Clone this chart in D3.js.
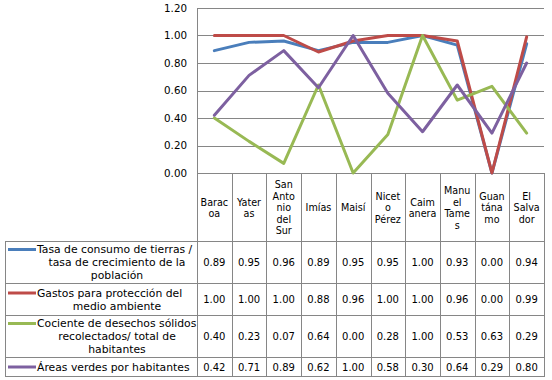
<!DOCTYPE html>
<html>
<head>
<meta charset="utf-8">
<script src="https://cdn.jsdelivr.net/npm/d3@7"></script>
<style>
  html, body { margin: 0; padding: 0; background: #fff; }
  svg { display: block; }
  text { font-family: "DejaVu Sans", Verdana, sans-serif; fill: #000; }
</style>
</head>
<body>
<svg id="chart" width="552" height="380"></svg>
<script>
// ---- data ----
const categories = ["Baracoa", "Yateras", "San Antonio del Sur", "Imías", "Maisí",
  "Niceto Pérez", "Caimanera", "Manuel Tames", "Guantánamo", "El Salvador"];
const categoryLabelLines = [
  ["Barac", "oa"], ["Yater", "as"], ["San", "Anto", "nio", "del", "Sur"], ["Imías"], ["Maisí"],
  ["Nicet", "o", "Pérez"], ["Caim", "anera"], ["Manu", "el", "Tame", "s"], ["Guan", "tána", "mo"], ["El", "Salva", "dor"]
];
const seriesNames = [
  "Tasa de consumo de tierras / tasa de crecimiento de la población",
  "Gastos para protección del medio ambiente",
  "Cociente de desechos sólidos recolectados/ total de habitantes",
  "Áreas verdes por habitantes"
];
const seriesLabelLines = [
  ["Tasa de consumo de tierras /", "tasa de crecimiento de la", "población"],
  ["Gastos para protección del", "medio ambiente"],
  ["Cociente de desechos sólidos", "recolectados/ total de", "habitantes"],
  ["Áreas verdes por habitantes"]
];
const tasaConsumo = [0.89, 0.95, 0.96, 0.89, 0.95, 0.95, 1.00, 0.93, 0.00, 0.94];
const gastosProteccion = [1.00, 1.00, 1.00, 0.88, 0.96, 1.00, 1.00, 0.96, 0.00, 0.99];
const cocienteDesechos = [0.40, 0.23, 0.07, 0.64, 0.00, 0.28, 1.00, 0.53, 0.63, 0.29];
const areasVerdes = [0.42, 0.71, 0.89, 0.62, 1.00, 0.58, 0.30, 0.64, 0.29, 0.80];
const yTicks = [0, 0.2, 0.4, 0.6, 0.8, 1.0, 1.2];

const seriesValues = [tasaConsumo, gastosProteccion, cocienteDesechos, areasVerdes];
const colors = ["#4A7EBB", "#BE4B48", "#98B954", "#7D60A0"];

// ---- layout ----
const plotLeft = 197, plotRight = 544, plotTop = 8, plotBottom = 173;
const tableLeft = 5;
const headerBottom = 241;
const rowBounds = [241, 283, 315, 357, 376];
const gridColor = "#868686";

const svg = d3.select("#chart");

const x = d3.scaleBand().domain(categories).range([plotLeft, plotRight]).padding(0);
const y = d3.scaleLinear().domain([0, 1.2]).range([plotBottom, plotTop]);

// gridlines
svg.append("g").selectAll("line").data(yTicks).join("line")
  .attr("x1", plotLeft).attr("x2", plotRight)
  .attr("y1", d => Math.round(y(d)) + 0.5).attr("y2", d => Math.round(y(d)) + 0.5)
  .attr("stroke", gridColor).attr("stroke-width", 1);

// y axis labels
const yAxis = d3.axisLeft(y).tickValues(yTicks).tickFormat(d3.format(".2f")).tickSize(0).tickPadding(10);
const yg = svg.append("g").attr("transform", `translate(${plotLeft},0)`).call(yAxis);
yg.select(".domain").remove();
yg.selectAll("text").style("font-family", '"DejaVu Sans", Verdana, sans-serif').style("font-size", "10.3px").attr("fill", "#000");

// table lines
const tg = svg.append("g").attr("stroke", gridColor).attr("stroke-width", 1).attr("fill", "none");
const colEdges = categories.map(c => x(c)).concat([plotRight]);
tg.selectAll("line.v").data(colEdges).join("line").attr("class", "v")
  .attr("x1", d => Math.round(d) + 0.5).attr("x2", d => Math.round(d) + 0.5)
  .attr("y1", (d, i) => i === 0 ? plotTop : plotBottom).attr("y2", rowBounds[rowBounds.length - 1] + 0.5);
tg.append("line").attr("x1", tableLeft + 0.5).attr("x2", tableLeft + 0.5)
  .attr("y1", rowBounds[0] + 0.5).attr("y2", rowBounds[rowBounds.length - 1] + 0.5);
tg.selectAll("line.h").data(rowBounds).join("line").attr("class", "h")
  .attr("x1", tableLeft).attr("x2", plotRight + 1)
  .attr("y1", d => d + 0.5).attr("y2", d => d + 0.5);

// header category labels
const headerLH = 11.5;
categories.forEach((c, i) => {
  const lines = categoryLabelLines[i];
  const cx = x(c) + x.bandwidth() / 2;
  const cy = (plotBottom + headerBottom) / 2 + 1;
  const t = svg.append("text").attr("text-anchor", "middle").style("font-size", "9.6px");
  lines.forEach((l, j) => {
    t.append("tspan").attr("x", cx)
      .attr("y", cy + (j - (lines.length - 1) / 2) * headerLH)
      .attr("dy", "0.35em").text(l);
  });
});

// row labels + legend keys + values
const rowLH = 13;
const fmt = d3.format(".2f");
seriesNames.forEach((s, i) => {
  const top = rowBounds[i], bot = rowBounds[i + 1];
  const cy = (top + bot) / 2 + 0.5;
  const lines = seriesLabelLines[i];
  const firstY = cy - (lines.length - 1) / 2 * rowLH;
  svg.append("line").attr("x1", 8).attr("x2", 36)
    .attr("y1", firstY).attr("y2", firstY)
    .attr("stroke", colors[i]).attr("stroke-width", 3);
  const t = svg.append("text").style("font-size", "10.8px");
  lines.forEach((l, j) => {
    const lx = j === 0 ? 37 : 117;
    t.append("tspan").attr("x", lx).attr("text-anchor", j === 0 ? "start" : "middle")
      .attr("y", firstY + j * rowLH).attr("dy", "0.35em").text(l);
  });
  svg.append("g").selectAll("text").data(seriesValues[i]).join("text")
    .attr("x", (d, k) => x(categories[k]) + x.bandwidth() / 2)
    .attr("y", cy).attr("dy", "0.35em").attr("text-anchor", "middle")
    .style("font-size", "10px").text(d => fmt(d));
});

// series lines
const line = d3.line().x((d, k) => x(categories[k]) + x.bandwidth() / 2).y(d => y(d));
seriesValues.forEach((vals, i) => {
  svg.append("path").datum(vals).attr("d", line)
    .attr("fill", "none").attr("stroke", colors[i]).attr("stroke-width", 3)
    .attr("stroke-linejoin", "round").attr("stroke-linecap", "round");
});
</script>
</body>
</html>
